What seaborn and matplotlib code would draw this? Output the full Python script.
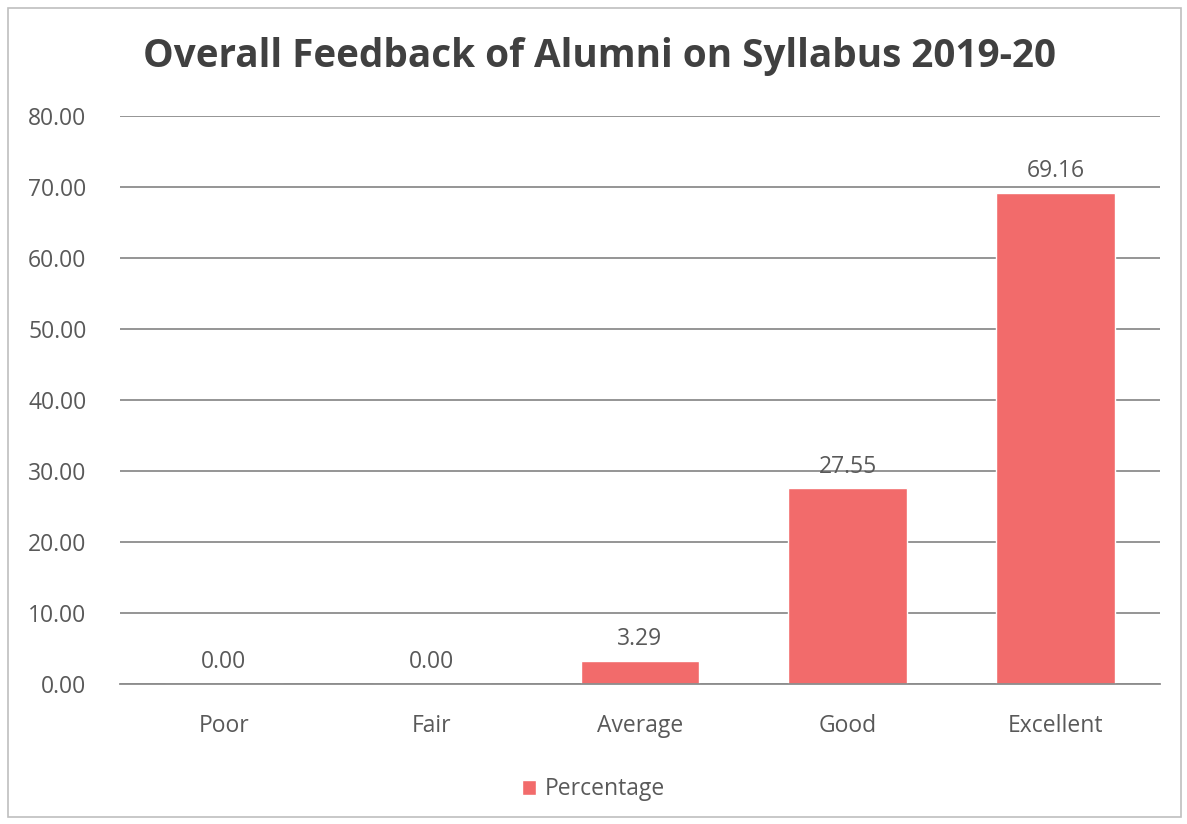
import matplotlib
matplotlib.use("Agg")
import matplotlib.pyplot as plt
import seaborn as sns
import pandas as pd
from matplotlib.patches import Rectangle

# data
categories = ["Poor", "Fair", "Average", "Good", "Excellent"]
percentage = [0.00, 0.00, 3.29, 27.55, 69.16]
y_ticks = [0, 10, 20, 30, 40, 50, 60, 70, 80]

df = pd.DataFrame({"Rating": categories, "Percentage": percentage})

sns.set_style("white")
plt.rcParams["font.family"] = ["Open Sans", "DejaVu Sans"]

bar_color = "#F26B6B"
text_color = "#595959"

fig = plt.figure(figsize=(11.87, 8.24), dpi=100)
ax = fig.add_axes([0.101, 0.170, 0.876, 0.689])

sns.barplot(data=df, x="Rating", y="Percentage", color=bar_color,
            width=0.57, ax=ax, label="Percentage", saturation=1)

ax.set_ylim(0, 80)
ax.set_yticks(y_ticks)
ax.set_yticklabels([f"{v:.2f}" for v in y_ticks])
ax.yaxis.grid(True, color="#8c8c8c", linewidth=1.3)
ax.set_axisbelow(True)
for s in ["top", "right", "left"]:
    ax.spines[s].set_visible(False)
ax.spines["bottom"].set_color("#8c8c8c")
ax.spines["bottom"].set_linewidth(1.3)
ax.tick_params(axis="both", length=0, labelsize=16.5, colors=text_color)
ax.tick_params(axis="y", pad=24)
ax.tick_params(axis="x", pad=22)
ax.set_xlabel("")
ax.set_ylabel("")

for container in ax.containers:
    ax.bar_label(container, labels=[f"{v:.2f}" for v in percentage],
                 padding=7, fontsize=16.5, color=text_color)

fig.suptitle("Overall Feedback of Alumni on Syllabus 2019-20", x=0.505, y=0.955,
             fontsize=27.8, fontweight="bold", color="#404040")

leg = ax.legend(loc="center", bbox_to_anchor=(0.5, 0.042), bbox_transform=fig.transFigure,
                frameon=False, fontsize=16.5, handlelength=0.6, handleheight=0.6,
                handletextpad=0.4)
for t in leg.get_texts():
    t.set_color(text_color)

fig.patches.append(Rectangle((0.007, 0.008), 0.988, 0.982, transform=fig.transFigure,
                             fill=False, edgecolor="#bfbfbf", linewidth=1.2))

fig.savefig("out.png", dpi=100)
